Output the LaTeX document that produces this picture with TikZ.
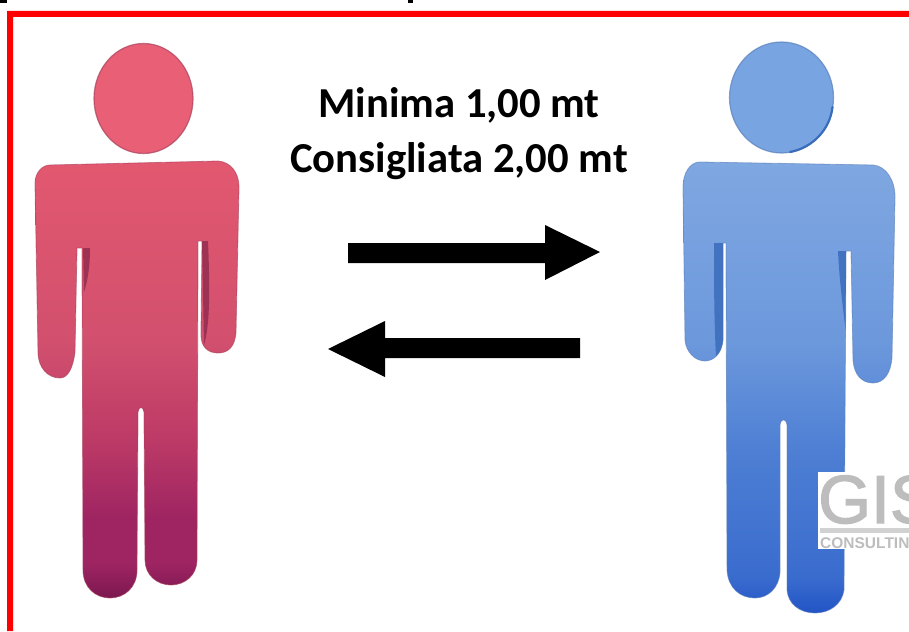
\documentclass[tikz,border=0pt]{standalone}
\usepackage{fontspec}
\setmainfont{Carlito}
\newfontfamily\logofont[RawFeature={embolden=2}]{Liberation Sans}
\newfontfamily\logosmall{Liberation Sans}
\definecolor{redhead}{HTML}{E95F76}
\definecolor{redb}{HTML}{E2586F}
\definecolor{redc}{HTML}{D2506E}
\definecolor{redd}{HTML}{BC3A66}
\definecolor{rede}{HTML}{9E2462}
\definecolor{redf}{HTML}{7C1850}
\definecolor{redline}{HTML}{A8405A}
\definecolor{redfold}{HTML}{8E2A4E}
\definecolor{bluehead}{HTML}{79A4E2}
\definecolor{blueb}{HTML}{7FA7E1}
\definecolor{bluec}{HTML}{6C98DC}
\definecolor{blued}{HTML}{4E7FD4}
\definecolor{bluee}{HTML}{3A6CCE}
\definecolor{bluef}{HTML}{2254C6}
\definecolor{blueline}{HTML}{5A80B8}
\definecolor{bluefold}{HTML}{3A6CBC}
\definecolor{logogrey}{HTML}{BDBDBD}
\pgfdeclareverticalshading{redbody}{100bp}{color(0bp)=(redf); color(25bp)=(redf); color(29bp)=(rede); color(34bp)=(rede); color(43bp)=(redd); color(54.5bp)=(redc); color(75bp)=(redb); color(100bp)=(redb)}
\pgfdeclareverticalshading{bluebody}{100bp}{color(0bp)=(bluef); color(25bp)=(bluef); color(29bp)=(bluee); color(43bp)=(blued); color(55bp)=(bluec); color(75bp)=(blueb); color(100bp)=(blueb)}
\tikzset{
  x=1pt,y=-1pt,
  frame/.style={draw=none,fill=red},
  redfig/.style={shading=redbody,draw=redline,draw opacity=.6,line width=.8pt},
  bluefig/.style={shading=bluebody,draw=blueline,draw opacity=.6,line width=.8pt},
  redball/.style={fill=redhead,draw=redline,draw opacity=.7,line width=1.2pt},
  blueball/.style={fill=bluehead,draw=blueline,draw opacity=.7,line width=1.2pt},
  redcrease/.style={fill=redfold,fill opacity=.8,draw=none},
  bluecrease/.style={fill=bluefold,fill opacity=.85,draw=none},
  arrowshape/.style={fill=black,draw=none},
  caption/.style={anchor=base,font=\fontsize{42.7}{50}\selectfont\bfseries,text=black,inner sep=0pt},
}
\begin{document}
\begin{tikzpicture}
\useasboundingbox (0,0) rectangle (909,631);
\fill[white] (0,0) rectangle (909,631);
% clipped title remnants
\fill[black] (0,0) rectangle (7,3);
\fill[black] (408,0) rectangle (413,3);
% red frame
\fill[frame] (7,631) -- (7,11) -- (909,11) -- (909,17) -- (13,17) -- (13,631) -- cycle;
% red figure
\path[redball] (143.5,98.5) ellipse [x radius=49.5,y radius=55];
\path[redfig]
  (50,165) -- (218,161) .. controls (231,162) and (239,173) .. (239,187)
  -- (236,332) .. controls (235,347) and (228,353) .. (218,353)
  .. controls (208,353) and (201,347) .. (201,335)
  -- (202,241) -- (198,241) -- (197,560)
  .. controls (197,575) and (185,585) .. (171,585)
  .. controls (157,585) and (145,575) .. (145,560)
  -- (144,412) .. controls (143,406) and (139,406) .. (138,412)
  -- (137,570) .. controls (137,588) and (124,598) .. (110,598)
  .. controls (96,598) and (83,588) .. (83,570)
  -- (82,248) -- (77,248) -- (75,352)
  .. controls (73,368) and (68,378) .. (60,378)
  .. controls (48,378) and (38,368) .. (38,352)
  -- (35,183) .. controls (35,173) and (42,165) .. (50,165) -- cycle;
\path[redcrease] (83,248) -- (90,248) .. controls (90,265) and (88,280) .. (84,292) -- cycle;
\path[redcrease] (202,241) -- (208,241) .. controls (210,290) and (210,325) .. (204,345) -- cycle;
% blue figure
\path[blueball] (781.5,97.5) ellipse [x radius=52,y radius=55.5];
\draw[bluefold,line width=2.2pt,line cap=round] (832.5,107) .. controls (830,130) and (812,148) .. (790,152);
\path[bluefig]
  (700,162) -- (873,165) .. controls (886,166) and (895,180) .. (895,197)
  -- (892,357) .. controls (891,373) and (884,383) .. (873,383)
  .. controls (862,383) and (854,375) .. (853,360)
  -- (851,251) -- (846,251) -- (844,590)
  .. controls (842,604) and (830,613) .. (815,613)
  .. controls (800,613) and (788,604) .. (787,590)
  -- (787,425) .. controls (786,418) and (781,418) .. (780,425)
  -- (780,572) .. controls (779,588) and (768,598) .. (755,598)
  .. controls (740,598) and (728,588) .. (727,570)
  -- (726,243) -- (723,243) -- (723,340)
  .. controls (722,353) and (714,361) .. (705,361)
  .. controls (695,361) and (686,352) .. (685,340)
  -- (683,187) .. controls (683,173) and (690,162) .. (700,162) -- cycle;
\path[bluecrease] (714,243) -- (723,243) -- (723,340) .. controls (722,348) and (720,352) .. (716,356) .. controls (714,320) and (714,280) .. (714,243) -- cycle;
\path[bluecrease] (838,251) -- (846,251) -- (845.5,330) .. controls (842,300) and (839,275) .. (838,251) -- cycle;
% arrows
\fill[arrowshape] (348,243) -- (545,243) -- (545,225) -- (600,252) -- (545,280) -- (545,263) -- (348,263) -- cycle;
\fill[arrowshape] (580,338) -- (385,338) -- (385,321) -- (328,349) -- (385,377) -- (385,358) -- (580,358) -- cycle;
% caption
\node[caption] (minima) at (459,118) {Minima 1,00 mt};
\node[caption] (consigliata) at (459,172) {Consigliata 2,00 mt};
% logo
\fill[white] (818,472) rectangle (909,549);
\begin{scope}
\clip (818,472) rectangle (909,549);
\node[anchor=base west,inner sep=0pt,text=logogrey,font=\logofont\fontsize{68}{70}\selectfont] (gis) at (818,523) {GIS};
\fill[logogrey!70] (820,528) rectangle (909,533);
\node[anchor=base west,inner sep=0pt,text=logogrey,font=\logosmall\bfseries\fontsize{15.5}{16}\selectfont] (consulting) at (820,548) {CONSULTING};
\end{scope}
\end{tikzpicture}
\end{document}
